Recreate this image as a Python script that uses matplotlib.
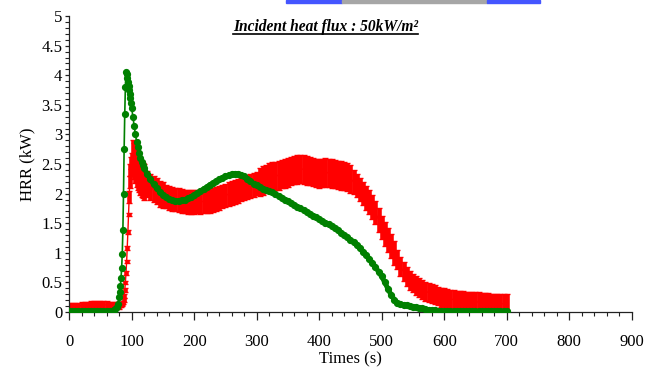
import matplotlib
matplotlib.use("Agg")
import matplotlib.pyplot as plt
import numpy as np
from matplotlib.ticker import MultipleLocator
from matplotlib.patches import Rectangle

plt.rcParams['font.family'] = ['Liberation Serif', 'DejaVu Serif']

# ---- data ----
# time axis (s) : coarse before the ignition, fine around the peak, then every 5 s
t_red = np.concatenate([np.arange(0, 81, 5), np.arange(82, 101, 1),
                        np.arange(102, 121, 2), np.arange(125, 701, 5)])
t_green = np.concatenate([np.arange(0, 71, 5), np.arange(72, 81, 2),
                          np.arange(81, 101, 1), np.arange(102, 121, 2),
                          np.arange(125, 701, 5)])

hrr_red = [
    0.09, 0.10, 0.10, 0.10, 0.11, 0.11, 0.11, 0.12, 0.12, 0.12, 0.12, 0.12, 0.12, 0.11, 0.11, 0.11, 0.11,
    0.12, 0.12, 0.13, 0.14, 0.16, 0.20, 0.27, 0.37, 0.50, 0.66, 0.85, 1.08, 1.35, 1.65, 1.95, 2.20, 2.40, 2.52, 2.58,
    2.60, 2.55, 2.48, 2.42, 2.36, 2.32, 2.28, 2.25, 2.22, 2.20,
    2.16, 2.12, 2.08, 2.04, 2.00, 1.97, 1.95, 1.93, 1.91, 1.90,
    1.89, 1.88, 1.87, 1.86, 1.86, 1.86, 1.87, 1.86, 1.87, 1.88,
    1.88, 1.89, 1.91, 1.93, 1.95, 1.97, 1.99, 2.01, 2.03, 2.05,
    2.07, 2.09, 2.11, 2.13, 2.15, 2.17, 2.20, 2.22, 2.25, 2.27,
    2.29, 2.30, 2.31, 2.33, 2.34, 2.36, 2.38, 2.40, 2.41, 2.42,
    2.41, 2.39, 2.38, 2.37, 2.35, 2.34, 2.35, 2.36, 2.35, 2.34,
    2.33, 2.32, 2.31, 2.30, 2.28, 2.25, 2.20, 2.14, 2.07, 2.00,
    1.93, 1.86, 1.78, 1.68, 1.56, 1.43, 1.32, 1.22, 1.12, 1.00,
    0.88, 0.77, 0.68, 0.60, 0.54, 0.49, 0.45, 0.41, 0.38, 0.35,
    0.33, 0.31, 0.29, 0.27, 0.25, 0.24, 0.23, 0.22, 0.21, 0.20,
    0.20, 0.19, 0.18, 0.18, 0.17, 0.17, 0.17, 0.16, 0.16, 0.16,
    0.15, 0.15, 0.15, 0.14, 0.14, 0.14,
]
# half width of the red error bars, by stretch of the curve
err_vals = [0.06, 0.03, 0.10, 0.30, 0.22, 0.20, 0.24, 0.20, 0.16]
err_counts = [17, 14, 5, 10, 6, 30, 30, 14, 36]

hrr_green = [
    0.02, 0.02, 0.02, 0.02, 0.02, 0.02, 0.02, 0.02, 0.02, 0.02, 0.02, 0.02, 0.02, 0.02, 0.02,
    0.03, 0.05, 0.08, 0.14, 0.25,
    0.34, 0.44, 0.57, 0.74, 0.98, 1.38, 2.00, 2.75, 3.35, 3.80,
    4.05, 4.02, 3.95, 3.88, 3.82, 3.76, 3.69, 3.61, 3.53, 3.45,
    3.30, 3.15, 3.00, 2.88, 2.78, 2.68, 2.60, 2.54, 2.48, 2.43,
    2.33, 2.24, 2.16, 2.09, 2.03, 1.98, 1.94, 1.91, 1.89, 1.88,
    1.88, 1.89, 1.90, 1.92, 1.95, 1.98, 2.01, 2.04, 2.08, 2.11,
    2.15, 2.18, 2.21, 2.24, 2.27, 2.29, 2.31, 2.33, 2.34, 2.34,
    2.32, 2.29, 2.25, 2.21, 2.17, 2.14, 2.11, 2.08, 2.06, 2.04,
    2.02, 1.99, 1.96, 1.93, 1.90, 1.87, 1.84, 1.81, 1.78, 1.75,
    1.72, 1.69, 1.66, 1.63, 1.60, 1.57, 1.54, 1.51, 1.48, 1.45,
    1.42, 1.38, 1.34, 1.30, 1.26, 1.22, 1.18, 1.13, 1.08, 1.02,
    0.96, 0.90, 0.83, 0.76, 0.68, 0.60, 0.50, 0.39, 0.29, 0.21,
    0.16, 0.14, 0.12, 0.11, 0.10, 0.09, 0.08, 0.07, 0.06, 0.05,
    0.04, 0.03, 0.03, 0.02, 0.02, 0.01, 0.01, 0.01, 0.01, 0.01,
    0.01, 0.01, 0.01, 0.01, 0.01, 0.01, 0.01, 0.01, 0.01, 0.01,
    0.01, 0.01, 0.01, 0.01, 0.01, 0.01,
]

title = 'Incident heat flux : 50kW/m²'

err_red = np.repeat(err_vals, err_counts)
hrr_green = np.array(hrr_green)

fig = plt.figure(figsize=(6.52, 3.75), dpi=100)
ax = fig.add_axes([0.106, 0.168, 0.863, 0.789])

ax.errorbar(t_red, hrr_red, yerr=err_red, color='#ff0000', ecolor='#ff0000',
            lw=1, elinewidth=3.3, capsize=2, capthick=1, zorder=2)
ax.plot(t_green, hrr_green, color='#008000', lw=1.2, marker='o', ms=4.2,
        mec='#008000', mfc='#008000', zorder=3)
# where the points are packed the markers merge into a thick band
dense = t_green >= 120
ax.plot(t_green[dense], hrr_green[dense], color='#008000', lw=3.6,
        solid_capstyle='round', zorder=3)
lo = t_green <= 75
ax.plot(t_green[lo], hrr_green[lo], color='#008000', lw=3.6, zorder=3)

ax.set_xlim(0, 900)
ax.set_ylim(0, 5)
ax.xaxis.set_major_locator(MultipleLocator(100))
ax.xaxis.set_minor_locator(MultipleLocator(20))
ax.yaxis.set_major_locator(MultipleLocator(0.5))
ax.yaxis.set_minor_locator(MultipleLocator(0.1))
ax.yaxis.set_major_formatter(plt.FuncFormatter(lambda v, p: '%g' % v))

for s in ['top', 'right']:
    ax.spines[s].set_visible(False)
for s in ['left', 'bottom']:
    ax.spines[s].set_color('#222222')
    ax.spines[s].set_linewidth(0.9)

ax.tick_params(axis='x', which='major', direction='out', length=6, width=0.9,
               labelsize=12, pad=10, colors='#222222', labelcolor='black')
ax.tick_params(axis='x', which='minor', direction='out', length=3, width=0.8, colors='#222222')
ax.tick_params(axis='y', which='major', direction='out', length=3, width=0.9,
               labelsize=12, pad=2, colors='#222222', labelcolor='black')
ax.tick_params(axis='y', which='minor', direction='out', length=3, width=0.8, colors='#222222')

ax.set_xlabel('Times (s)', fontsize=12, labelpad=1)
ax.set_ylabel('HRR (kW)', fontsize=12, labelpad=4)

txt = fig.text(0.499, 0.927, title, ha='center', va='center', fontsize=11.2,
               fontweight='bold', fontstyle='italic')
fig.canvas.draw()
bb = txt.get_window_extent().transformed(fig.transFigure.inverted())
fig.add_artist(plt.Line2D([bb.x0, bb.x1], [bb.y0 + 0.004, bb.y0 + 0.004],
                          color='black', lw=1.2, transform=fig.transFigure))

# cut-off legend strip at the very top of the picture
fig.patches.append(Rectangle((286 / 652, 1 - 3 / 375), 56 / 652, 3 / 375, color='#4455ff',
                             transform=fig.transFigure, figure=fig))
fig.patches.append(Rectangle((342 / 652, 1 - 3 / 375), 145 / 652, 3 / 375, color='#a6a6a6',
                             transform=fig.transFigure, figure=fig))
fig.patches.append(Rectangle((487 / 652, 1 - 3 / 375), 53 / 652, 3 / 375, color='#4455ff',
                             transform=fig.transFigure, figure=fig))

fig.savefig('out.png', dpi=100)
